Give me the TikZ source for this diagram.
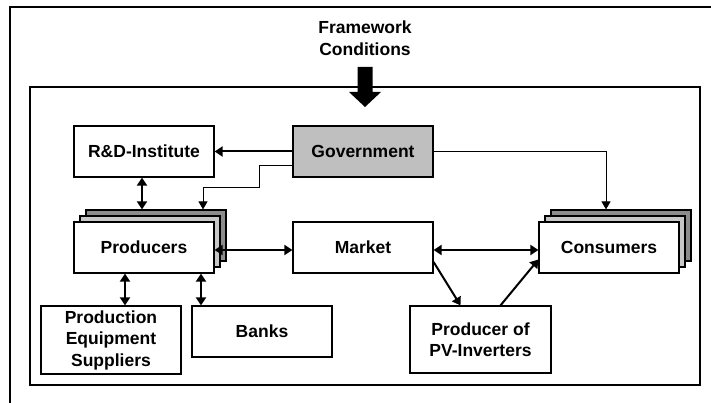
\documentclass[tikz,border=0pt]{standalone}
\usepackage{fontspec}
\setmainfont{Liberation Sans}
\usetikzlibrary{arrows.meta}
\usetikzlibrary{positioning}
\tikzstyle{bx}=[draw,rectangle,fill=white,line width=1.2pt,minimum width=140pt,minimum height=51pt,inner sep=0pt,align=center,font=\bfseries\fontsize{17.5}{21.5}\selectfont]
\tikzstyle{gx}=[bx,fill=black!25]
\tikzstyle{sh1}=[bx,fill=black!22]
\tikzstyle{sh2}=[bx,fill=black!45]
\tikzstyle{ar}=[line width=2pt,-{Triangle[length=8pt,width=10pt]}]
\tikzstyle{dar}=[line width=2pt,{Triangle[length=8pt,width=10pt]}-{Triangle[length=8pt,width=10pt]}]
\tikzstyle{tar}=[line width=1pt,-{Triangle[length=8pt,width=9pt]}]

\begin{document}
\begin{tikzpicture}[x=1pt,y=-1pt]
      \useasboundingbox (0,0) rectangle (711,403);
      \draw [line width=2pt] (10,403) -- (10,7) -- (711,7);
      \draw [line width=2pt] (30,87) rectangle (700,385);
      \node [align=center,font=\bfseries\fontsize{17.5}{21.5}\selectfont] (fc) at (365,38) {Framework\\Conditions};
      \fill (357.5,67) -- (372.5,67) -- (372.5,92) -- (381,92) -- (365,107) -- (349,92) -- (357.5,92) -- cycle;
      % stacked boxes
      \node [sh2] (prod3) at (156,235.5) {};
      \node [sh1] (prod2) at (150,241.5) {};
      \node [bx] (prod) at (144,247.5) {Producers};
      \node [sh2] (cons3) at (621,235.5) {};
      \node [sh1] (cons2) at (615,241.5) {};
      \node [bx] (cons) at (609,247.5) {Consumers};
      \node [bx] (rd) at (144,151.5) {R\&D-Institute};
      \node [gx] (gov) at (363,151.5) {Government};
      \node [bx] (mkt) at (363,247.5) {Market};
      \node [bx,minimum width=141pt,minimum height=67pt] (pv) at (480.5,339.5) {Producer of\\PV-Inverters};
      \node [bx,minimum height=68pt] (pes) at (111,340) {Production\\Equipment\\Suppliers};
      \node [bx] (bank) at (262,331.5) {Banks};
      \draw [ar] (gov.west) -- (rd.east);
      \draw [dar] ([xshift=-2pt]rd.south) -- ([xshift=-2pt]rd.south |- prod3.north);
      \draw [tar] ([yshift=-14.5pt]gov.west) -| (259,188) -| ([xshift=47pt]prod3.north);
      \draw [tar] (gov.east) -| ([xshift=-15pt]cons3.north);
      \draw [dar] ([yshift=-2.5pt]prod.east) -- ([yshift=-2.5pt]mkt.west);
      \draw [dar] ([yshift=-2.5pt]mkt.east) -- ([yshift=-2.5pt]cons.west);
      \draw [ar] ([yshift=-14.5pt]mkt.east) -- ([xshift=-20pt]pv.north);
      \draw [ar] ([xshift=20pt]pv.north) -- ([yshift=-12pt]cons.west);
      \draw [dar] ([xshift=-19pt]prod.south) -- ([xshift=-19pt]prod.south |- pes.north);
      \draw [dar] ([xshift=57pt]prod.south) -- ([xshift=57pt]prod.south |- bank.north);
    \end{tikzpicture}
\end{document}
